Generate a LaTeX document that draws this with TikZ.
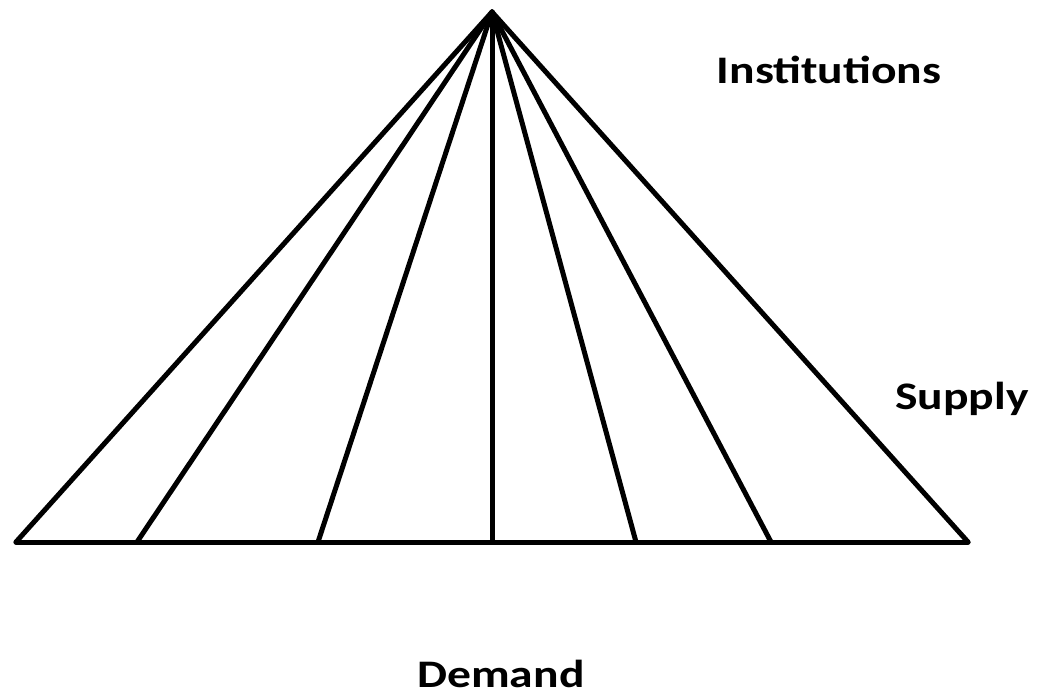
\documentclass[tikz,border=0pt]{standalone}
\usepackage{fontspec}
\setmainfont{Carlito}
\begin{document}
\begin{tikzpicture}[x=1pt,y=-1pt,
  edge/.style={line width=5pt,line cap=round,line join=round},
  lbl/.style={font=\bfseries\fontsize{39}{45}\selectfont,inner sep=0pt,anchor=base,xscale=1.22}]
\useasboundingbox (0,0) rectangle (1038,696);
\coordinate (apex) at (492,12);
\coordinate (bl) at (16,542);
\coordinate (br) at (968,542);
\coordinate (b1) at (137,542);
\coordinate (b2) at (318,542);
\coordinate (b3) at (492,542);
\coordinate (b4) at (636,542);
\coordinate (b5) at (771,542);
\draw[edge] (bl) -- (br);
\draw[edge] (bl) -- (apex) -- (br);
\foreach \b in {b1,b2,b3,b4,b5} \draw[edge] (apex) -- (\b);
\node[lbl] (inst) at (829,83) {Institutions};
\node[lbl] (sup) at (962,409) {Supply};
\node[lbl] (dem) at (501,687) {Demand};
\end{tikzpicture}
\end{document}
